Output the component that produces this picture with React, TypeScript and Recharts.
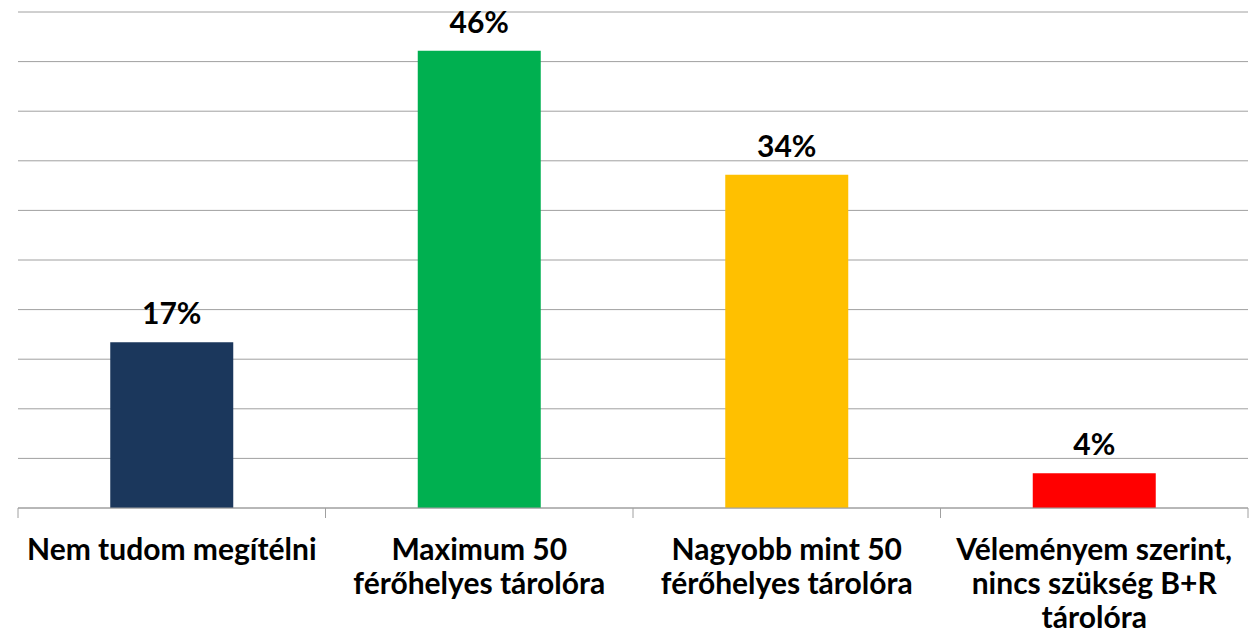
import React from "react";
import { BarChart, Bar, XAxis, YAxis, CartesianGrid, Cell, LabelList } from "recharts";

const categories = [
  "Nem tudom megítélni",
  "Maximum 50\nférőhelyes tárolóra",
  "Nagyobb mint 50\nférőhelyes tárolóra",
  "Véleményem szerint,\nnincs szükség B+R\ntárolóra",
];
const values = [16.7, 46.1, 33.6, 3.5];
const colors = ["#1B375C", "#00B050", "#FFC000", "#FF0000"];
const yTicks = [0, 5, 10, 15, 20, 25, 30, 35, 40, 45, 50];

const data = categories.map((c, i) => ({ name: c, value: values[i] }));

const W = 1260;
const H = 640;
const M = { top: 12, right: 12, left: 18, bottom: 12 };
const band = (W - M.left - M.right) / categories.length;
const FONT = "Lato, 'Open Sans', sans-serif";

const Tick = (props: any) => {
  const { x, y, payload, index } = props;
  const lines = String(payload.value).split("\n");
  const lx = x - band / 2;
  const rx = x + band / 2;
  return (
    <g>
      <line x1={lx} y1={y} x2={lx} y2={y + 10} stroke="#a0a0a0" />
      {index === categories.length - 1 && (
        <line x1={rx} y1={y} x2={rx} y2={y + 10} stroke="#a0a0a0" />
      )}
      <text
        x={x}
        y={y}
        textAnchor="middle"
        fontFamily={FONT}
        fontWeight="bold"
        fontSize={30}
        fill="#000"
      >
        {lines.map((l, i) => (
          <tspan key={i} x={x} y={y + 52 + i * 34}>
            {l}
          </tspan>
        ))}
      </text>
    </g>
  );
};

export default function App() {
  return (
    <div style={{ position: "absolute", left: 0, top: 0, background: "#fff" }}>
      <BarChart width={W} height={H} data={data} margin={M} barCategoryGap="30%">
        <CartesianGrid vertical={false} stroke="#a0a0a0" />
        <XAxis
          dataKey="name"
          interval={0}
          height={120}
          tickLine={false}
          tickSize={0}
          tickMargin={0}
          axisLine={{ stroke: "#a0a0a0" }}
          tick={<Tick />}
        />
        <YAxis hide domain={[0, 50]} ticks={yTicks} />
        <Bar dataKey="value" isAnimationActive={false}>
          {data.map((d, i) => (
            <Cell key={i} fill={colors[i]} />
          ))}
          <LabelList
            dataKey="value"
            position="top"
            offset={18}
            formatter={(v: any) => `${Math.round(Number(v))}%`}
            style={{ fontFamily: FONT, fontWeight: "bold", fontSize: 30, fill: "#000" }}
          />
        </Bar>
      </BarChart>
    </div>
  );
}
